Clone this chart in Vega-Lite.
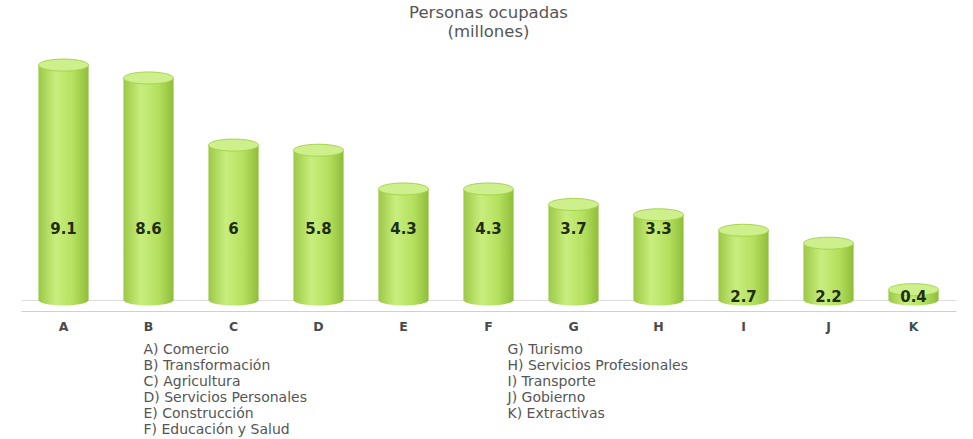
{
  "$schema": "https://vega.github.io/schema/vega-lite/v6.json",
  "width": 935,
  "height": 253,
  "padding": {"left": 21, "right": 17, "top": 4, "bottom": 0},
  "background": "white",
  "title": {
    "text": ["Personas ocupadas", "(millones)"],
    "font": "DejaVu Sans",
    "fontSize": 16.5,
    "fontWeight": "normal",
    "color": "#555555",
    "lineHeight": 19,
    "anchor": "middle",
    "offset": 7
  },
  "datasets": {
    "d": [
      {"letra": "A", "sector": "Comercio", "leyenda": "A) Comercio", "valor": 9.1},
      {"letra": "B", "sector": "Transformación", "leyenda": "B) Transformación", "valor": 8.6},
      {"letra": "C", "sector": "Agricultura", "leyenda": "C) Agricultura", "valor": 6},
      {"letra": "D", "sector": "Servicios Personales", "leyenda": "D) Servicios Personales", "valor": 5.8},
      {"letra": "E", "sector": "Construcción", "leyenda": "E) Construcción", "valor": 4.3},
      {"letra": "F", "sector": "Educación y Salud", "leyenda": "F) Educación y Salud", "valor": 4.3},
      {"letra": "G", "sector": "Turismo", "leyenda": "G) Turismo", "valor": 3.7},
      {"letra": "H", "sector": "Servicios Profesionales", "leyenda": "H) Servicios Profesionales", "valor": 3.3},
      {"letra": "I", "sector": "Transporte", "leyenda": "I) Transporte", "valor": 2.7},
      {"letra": "J", "sector": "Gobierno", "leyenda": "J) Gobierno", "valor": 2.2},
      {"letra": "K", "sector": "Extractivas", "leyenda": "K) Extractivas", "valor": 0.4}
    ]
  },
  "data": {"name": "d"},
  "config": {"view": {"stroke": null}},
  "encoding": {
    "x": {
      "field": "letra",
      "type": "nominal",
      "sort": null,
      "scale": {"paddingInner": 0.41, "paddingOuter": 0.205},
      "axis": {
        "title": null,
        "labelAngle": 0,
        "ticks": false,
        "domain": true,
        "domainColor": "#d0d0d0",
        "offset": 11,
        "labelPadding": 9,
        "labelFont": "DejaVu Sans",
        "labelFontSize": 12.5,
        "labelFontWeight": "bold",
        "labelColor": "#4a4a4a"
      }
    }
  },
  "layer": [
    {
      "encoding": {
        "y": {
          "field": "valor",
          "type": "quantitative",
          "scale": {"domain": [0, 9.8], "nice": false},
          "axis": {
            "title": null,
            "values": [0],
            "labels": false,
            "ticks": false,
            "domain": false,
            "grid": true,
            "gridColor": "#dcdcdc"
          }
        }
      },
      "layer": [
        {
          "mark": {
            "type": "point",
            "shape": "M-1,0A1,0.22,0,1,0,1,0A1,0.22,0,1,0,-1,0Z",
            "size": 2500,
            "filled": true,
            "opacity": 1,
            "color": {
              "gradient": "linear", "x1": 0, "x2": 1, "y1": 0, "y2": 0,
              "stops": [
                {"offset": 0, "color": "#9cc846"},
                {"offset": 0.35, "color": "#c8ee7e"},
                {"offset": 0.7, "color": "#b4e05e"},
                {"offset": 1, "color": "#8fbd3a"}
              ]
            }
          },
          "encoding": {"y": {"datum": 0}}
        },
        {
          "mark": {
            "type": "bar",
            "color": {
              "gradient": "linear", "x1": 0, "x2": 1, "y1": 0, "y2": 0,
              "stops": [
                {"offset": 0, "color": "#9cc846"},
                {"offset": 0.35, "color": "#c8ee7e"},
                {"offset": 0.7, "color": "#b4e05e"},
                {"offset": 1, "color": "#8fbd3a"}
              ]
            }
          }
        },
        {
          "mark": {
            "type": "point",
            "shape": "M-1,0A1,0.24,0,1,0,1,0A1,0.24,0,1,0,-1,0Z",
            "size": 2500,
            "filled": true,
            "opacity": 1,
            "color": "#cdef8c",
            "stroke": "#a6d44e",
            "strokeWidth": 1
          }
        },
        {
          "transform": [{"filter": "datum.valor >= 3"}],
          "mark": {
            "type": "text",
            "font": "DejaVu Sans",
            "fontSize": 15,
            "fontWeight": "bold",
            "color": "#1f2d12"
          },
          "encoding": {
            "y": {"datum": 2.75},
            "text": {"field": "valor", "type": "quantitative"}
          }
        },
        {
          "transform": [{"filter": "datum.valor < 3"}],
          "mark": {
            "type": "text",
            "font": "DejaVu Sans",
            "fontSize": 15,
            "fontWeight": "bold",
            "color": "#1f2d12"
          },
          "encoding": {
            "y": {"datum": 0.1},
            "text": {"field": "valor", "type": "quantitative"}
          }
        }
      ]
    },
    {
      "transform": [{"filter": "indexof(['A','B','C','D','E','F'], datum.letra) >= 0"}],
      "mark": {
        "type": "text",
        "align": "left",
        "dx": -5,
        "font": "DejaVu Sans",
        "fontSize": 14,
        "color": "#555555"
      },
      "encoding": {
        "x": {"datum": "B"},
        "y": {
          "field": "letra",
          "type": "nominal",
          "scale": {"type": "point", "domain": ["A", "B", "C", "D", "E", "F"], "range": [303, 383], "padding": 0},
          "axis": null
        },
        "text": {"field": "leyenda"}
      }
    },
    {
      "transform": [{"filter": "indexof(['G','H','I','J','K'], datum.letra) >= 0"}],
      "mark": {
        "type": "text",
        "align": "left",
        "dx": 19,
        "font": "DejaVu Sans",
        "fontSize": 14,
        "color": "#555555"
      },
      "encoding": {
        "x": {"datum": "F"},
        "y": {
          "field": "letra",
          "type": "nominal",
          "scale": {"type": "point", "domain": ["G", "H", "I", "J", "K"], "range": [303, 367], "padding": 0},
          "axis": null
        },
        "text": {"field": "leyenda"}
      }
    }
  ],
  "resolve": {"scale": {"y": "independent"}}
}
